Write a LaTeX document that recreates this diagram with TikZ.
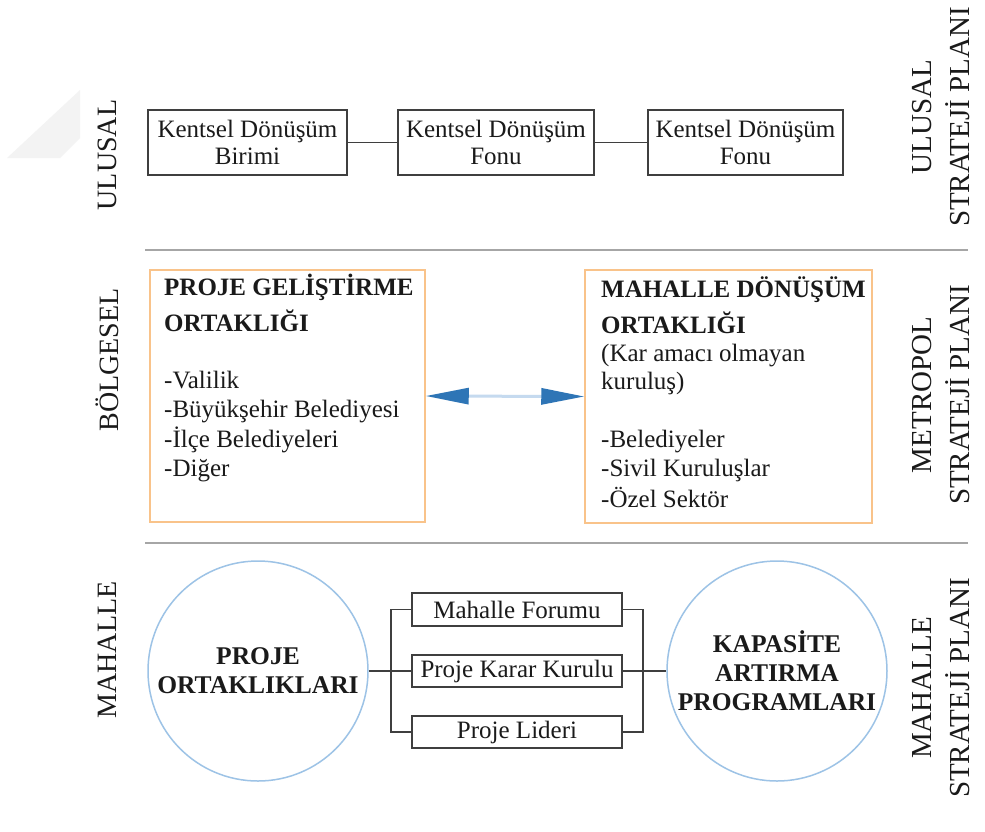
\documentclass[tikz,border=0pt]{standalone}
\usepackage{fontspec}
\setmainfont{LiberationSerif}[Extension=.ttf, UprightFont=*-Regular,
  BoldFont=*-Bold, ItalicFont=*-Italic, BoldItalicFont=*-BoldItalic]
\usetikzlibrary{arrows.meta}

\definecolor{inkc}{HTML}{1A1A1A}
\definecolor{boxc}{HTML}{3F3F3F}
\definecolor{sepc}{HTML}{A6A6A6}
\definecolor{orangec}{HTML}{F9C38A}
\definecolor{circc}{HTML}{9DC3E6}
\definecolor{headc}{HTML}{2E75B6}
\definecolor{shaftc}{HTML}{C5DAEF}
\definecolor{markc}{HTML}{F3F3F3}

\tikzset{
  plainbox/.style={draw=boxc, line width=1.3pt, inner sep=0pt, align=center,
    text=inkc, font=\fontsize{25}{27}\selectfont},
  orangebox/.style={draw=orangec, line width=1.5pt, inner sep=0pt},
  boxline/.style={anchor=base west, inner sep=0pt, text=inkc,
    font=\fontsize{25}{28}\selectfont},
  boxhead/.style={boxline, font=\fontsize{25}{30}\selectfont\bfseries},
  bigcircle/.style={draw=circc, line width=1.5pt, circle, minimum size=220pt,
    inner sep=0pt, align=center, text=inkc,
    font=\fontsize{25.5}{29}\selectfont\bfseries},
  smallbox/.style={draw=boxc, line width=1.3pt, minimum width=210pt,
    inner sep=0pt, text=inkc, font=\fontsize{25}{28}\selectfont},
  link/.style={draw=boxc, line width=1.2pt},
  separator/.style={draw=sepc, line width=2pt},
  levellabel/.style={rotate=90, inner sep=0pt, text=inkc,
    font=\fontsize{28}{32}\selectfont},
  planlabel/.style={rotate=90, inner sep=0pt, align=center, text=inkc,
    font=\fontsize{29}{38}\selectfont}
}

\begin{document}
\begin{tikzpicture}[x=1pt, y=-1pt]
\useasboundingbox (0,0) rectangle (985,831);
\fill[white] (0,0) rectangle (985,831);

% faint corner mark
\fill[markc] (80,90) -- (80,138) -- (60,158) -- (7,158) -- cycle;

% level labels, left side
\node[levellabel] (lulusal) at (107,155) {ULUSAL};
\node[levellabel] (lbolge) at (107,360) {BÖLGESEL};
\node[levellabel] (lmahalle) at (107,650) {MAHALLE};

% plan labels, right side
\node[planlabel] (pulusal) at (941,117) {ULUSAL\\STRATEJİ PLANI};
\node[planlabel] (pmetro) at (941,395) {METROPOL\\STRATEJİ PLANI};
\node[planlabel] (pmahalle) at (941,688) {MAHALLE\\STRATEJİ PLANI};

% section separators
\coordinate (s1a) at (145,250);
\coordinate (s1b) at (968,250);
\coordinate (s2a) at (145,543);
\coordinate (s2b) at (968,543);
\draw[separator] (s1a) -- (s1b);
\draw[separator] (s2a) -- (s2b);

% national level
\node[plainbox, minimum width=199pt, minimum height=65pt] (birim) at (247.5,142.5)
  {Kentsel Dönüşüm\\Birimi};
\node[plainbox, minimum width=196pt, minimum height=65pt] (fon1) at (496,142.5)
  {Kentsel Dönüşüm\\Fonu};
\node[plainbox, minimum width=195pt, minimum height=65pt] (fon2) at (745.5,142.5)
  {Kentsel Dönüşüm\\Fonu};
\draw[link] (birim.east) -- (fon1.west);
\draw[link] (fon1.east) -- (fon2.west);

% regional level
\node[orangebox, minimum width=275pt, minimum height=252pt] (pgo) at (287.5,396) {};
\node[orangebox, minimum width=287pt, minimum height=253pt] (mdo) at (728.5,396.5) {};

\node[boxhead] (pgo1) at (164,295) {PROJE GELİŞTİRME};
\node[boxhead] (pgo2) at (164,331) {ORTAKLIĞI};
\node[boxline] (pgo3) at (164,388) {-Valilik};
\node[boxline] (pgo4) at (164,417) {-Büyükşehir Belediyesi};
\node[boxline] (pgo5) at (164,447) {-İlçe Belediyeleri};
\node[boxline] (pgo6) at (164,476) {-Diğer};

\node[boxhead] (mdo1) at (601,297) {MAHALLE DÖNÜŞÜM};
\node[boxhead] (mdo2) at (601,333) {ORTAKLIĞI};
\node[boxline] (mdo3) at (601,361) {(Kar amacı olmayan};
\node[boxline] (mdo4) at (601,389) {kuruluş)};
\node[boxline] (mdo5) at (601,447) {-Belediyeler};
\node[boxline] (mdo6) at (601,476) {-Sivil Kuruluşlar};
\node[boxline] (mdo7) at (601,507) {-Özel Sektör};

\draw[draw=shaftc, line width=3pt,
  {Triangle[length=43pt, width=16pt, color=headc]}-{Triangle[length=43pt, width=16pt, color=headc]}]
  (pgo.east) -- (mdo.west);

% neighbourhood level
\node[bigcircle] (proje) at (258,671) {PROJE\\ORTAKLIKLARI};
\node[bigcircle] (kapasite) at (777,671) {KAPASİTE\\ARTIRMA\\PROGRAMLARI};

\node[smallbox, minimum height=33pt] (forum) at (517,609.5) {Mahalle Forumu};
\node[smallbox, minimum height=32pt] (karar) at (517,671) {Proje Karar Kurulu};
\node[smallbox, minimum height=32pt] (lider) at (517,732) {Proje Lideri};

\coordinate (jl) at (391,671);
\coordinate (jr) at (643,671);
\draw[link] (forum.west) -| (jl) |- (lider.west);
\draw[link] (forum.east) -| (jr) |- (lider.east);
\draw[link] (proje.east) -- (karar.west);
\draw[link] (karar.east) -- (kapasite.west);
\end{tikzpicture}
\end{document}
